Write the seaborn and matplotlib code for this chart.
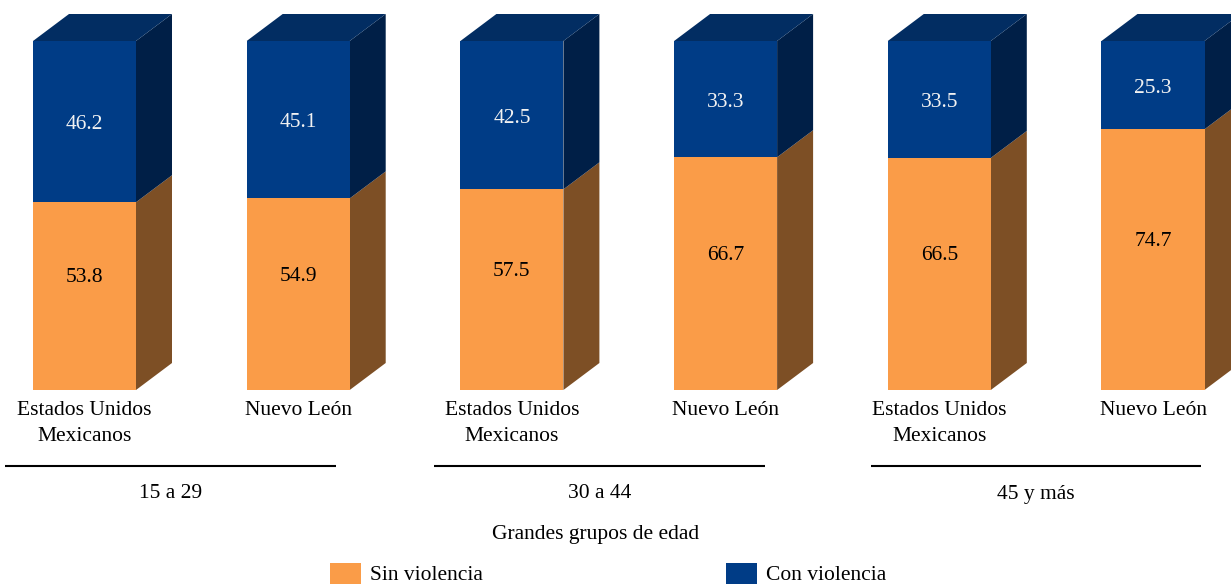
import matplotlib
matplotlib.use("Agg")
import matplotlib.pyplot as plt
from matplotlib.patches import Polygon, Rectangle
import seaborn as sns
import pandas as pd

# ---- data ----
groups = ["15 a 29", "30 a 44", "45 y más"]
regions = ["Estados Unidos\nMexicanos", "Nuevo León"]
sin_violencia = [53.8, 54.9, 57.5, 66.7, 66.5, 74.7]
con_violencia = [46.2, 45.1, 42.5, 33.3, 33.5, 25.3]
series_names = ["Sin violencia", "Con violencia"]
axis_title = "Grandes grupos de edad"

# ---- styles ----
C_OR = "#FA9C48"
C_OR_SIDE = "#7D4F25"
C_BL = "#003C86"
C_BL_SIDE = "#001F47"
C_TOP = "#022D62"
FONT = "Liberation Serif"
FS = 15.5

sns.set_theme(style="white")
plt.rcParams["font.family"] = [FONT, "DejaVu Serif"]

ids = [f"{g}|{r}" for g in groups for r in regions]
df = pd.DataFrame({
    "id": ids,
    "sin": sin_violencia,
    "total": [a + b for a, b in zip(sin_violencia, con_violencia)],
})

fig = plt.figure(figsize=(12.31, 5.84), dpi=100)
ax = fig.add_axes([0, 0, 1, 1])

W = 0.482
sns.barplot(data=df, x="id", y="total", order=ids, color=C_BL, saturation=1,
            width=W, ax=ax, linewidth=0, zorder=2)
n = len(ids)
sns.barplot(data=df, x="id", y="sin", order=ids, color=C_OR, saturation=1,
            width=W, ax=ax, linewidth=0, zorder=3)

# pixel mapping
SPX = 213.7
X0PX = 84.5
YPX = 3.49
Y0PX = 390
def px2x(px):
    return (px - X0PX) / SPX
def py2y(py):
    return (Y0PX - py) / YPX

ax.set_xlim(px2x(0), px2x(1231))
ax.set_ylim(py2y(584), py2y(0))
ax.axis("off")

DX = 36 / SPX
DY = 27 / YPX

blue_patches = ax.patches[:n]
or_patches = ax.patches[n:2 * n]
for bp, op, s, c in zip(blue_patches, or_patches, sin_violencia, con_violencia):
    x0 = bp.get_x(); x1 = x0 + bp.get_width()
    top = bp.get_height()
    oh = op.get_height()
    # sides
    ax.add_patch(Polygon([(x1, 0), (x1 + DX, DY), (x1 + DX, oh + DY), (x1, oh)],
                         closed=True, facecolor=C_OR_SIDE, edgecolor="none", zorder=1))
    ax.add_patch(Polygon([(x1, oh), (x1 + DX, oh + DY), (x1 + DX, top + DY), (x1, top)],
                         closed=True, facecolor=C_BL_SIDE, edgecolor="none", zorder=1))
    # top
    ax.add_patch(Polygon([(x0, top), (x1, top), (x1 + DX, top + DY), (x0 + DX, top + DY)],
                         closed=True, facecolor=C_TOP, edgecolor="none", zorder=1))
    xc = (x0 + x1) / 2
    ax.text(xc, (oh + top) / 2 - 0.9, f"{c:.1f}", ha="center", va="center",
            color="#F2F2F2", fontsize=FS, zorder=5)
    ax.text(xc, oh / 2 + 5.2, f"{s:.1f}", ha="center", va="center",
            color="black", fontsize=FS, zorder=5)

# category labels
for i, bp in enumerate(blue_patches):
    xc = bp.get_x() + bp.get_width() / 2
    ax.text(xc, py2y(401), regions[i % 2], ha="center", va="top",
            fontsize=FS, linespacing=1.47, color="black")

# group lines and labels
line_px = [(5, 336), (434, 765), (871, 1201)]
for g, (a, b) in zip(groups, line_px):
    ax.plot([px2x(a), px2x(b)], [py2y(466)] * 2, color="black", lw=1.5,
            solid_capstyle="butt")
    ax.text(px2x((a + b) / 2), py2y(494), g, ha="center", va="center",
            fontsize=FS, color="black")

ax.text(px2x(596), py2y(534), axis_title, ha="center", va="center",
        fontsize=FS, color="black")

# legend
for name, col, lx in zip(series_names, [C_OR, C_BL], [330, 726]):
    ax.add_patch(Rectangle((px2x(lx), py2y(590)), 31 / SPX, 27 / YPX,
                           facecolor=col, edgecolor="none", clip_on=False))
    ax.text(px2x(lx + 40), py2y(576), name, ha="left", va="center",
            fontsize=FS, color="black")

fig.savefig("out.png", dpi=100)
